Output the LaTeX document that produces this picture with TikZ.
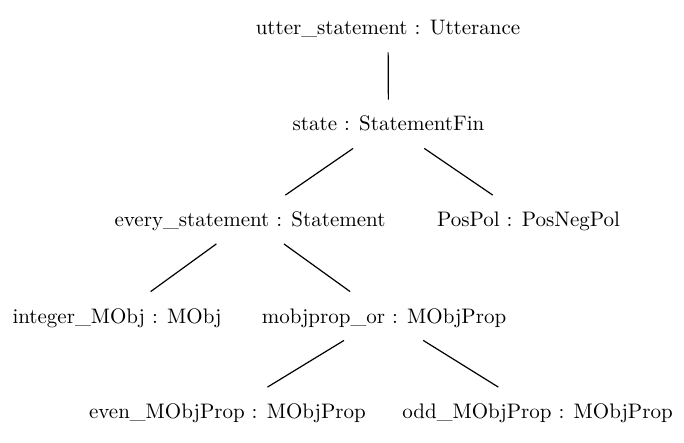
\documentclass[tikz,border=0pt]{standalone}

\begin{document}
\begin{tikzpicture}[x=0.5pt, y=-0.5pt,
    every node/.style={font=\fontsize{10.5}{12}\selectfont, text height=7.5pt, text depth=0.5pt, inner xsep=2pt, inner ysep=8pt},
    link/.style={semithick}]
  \useasboundingbox (0,0) rectangle (684,443);

  % Define nodes
  \node (utter) at (388,28) {utter\_statement : Utterance};
  \node (state) at (388.5,124) {state : StatementFin};
  \node (every) at (250,219.5) {every\_statement : Statement};
  \node (pospol) at (528.5,219.5) {PosPol : PosNegPol};
  \node (integer) at (117,316) {integer\_MObj : MObj};
  \node (mobjprop) at (384,316) {mobjprop\_or : MObjProp};
  \node (even) at (227.5,411.5) {even\_MObjProp : MObjProp};
  \node (odd) at (537.5,411.5) {odd\_MObjProp : MObjProp};

  % Connect nodes
  \draw [link] (utter) -- (state);
  \draw [link] (state) -- (every);
  \draw [link] (state) -- (pospol);
  \draw [link] (every) -- (integer);
  \draw [link] (every) -- (mobjprop);
  \draw [link] (mobjprop) -- (even);
  \draw [link] (mobjprop) -- (odd);
\end{tikzpicture}
\end{document}
